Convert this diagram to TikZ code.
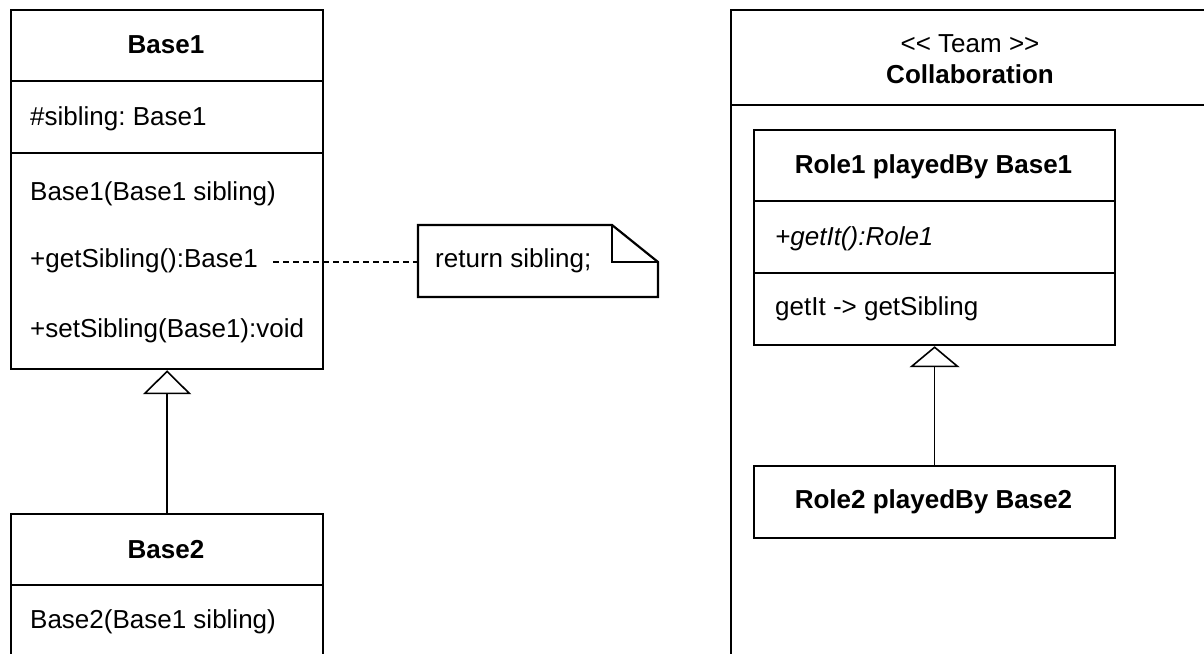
\documentclass[tikz,border=0pt]{standalone}
\usepackage{fontspec}
\setmainfont{Liberation Sans}[Ligatures=TeXOff]
\usetikzlibrary{arrows.meta}
\frenchspacing
\begin{document}
\begin{tikzpicture}[x=1pt,y=-1pt,
  every node/.style={font=\fontsize{26pt}{31pt}\selectfont, inner sep=0pt},
  box/.style={draw, line width=2.2pt, anchor=north west, inner sep=0pt},
  frame/.style={line width=2.2pt},
  lbl/.style={anchor=base west},
  ttl/.style={anchor=base, font=\fontsize{26pt}{31pt}\selectfont\bfseries},
  gen/.style={line width=1.6pt, -{Triangle[open, length=24pt, width=48pt, line width=1.6pt]}},
  notelink/.style={line width=1.6pt, dash pattern=on 6pt off 4pt}
]
\useasboundingbox (0,0) rectangle (1204,653);
\clip (0,0) rectangle (1204,653);

% Base1
\node[box, minimum width=312pt, minimum height=359pt] (base1) at (10,9) {};
\draw[frame] (10,81) -- (322,81);
\draw[frame] (10,153) -- (322,153);
\node[ttl] (base1t) at (166,53) {Base1};
\node[lbl] (base1a) at (30,125) {\#sibling: Base1};
\node[lbl] (base1m1) at (30,200) {Base1(Base1 sibling)};
\node[lbl] (base1m2) at (30,267) {+getSibling():Base1};
\node[lbl] (base1m3) at (30,337) {+setSibling(Base1):void};

% Base2
\node[box, minimum width=312pt, minimum height=200pt] (base2) at (10,513) {};
\draw[frame] (10,585) -- (322,585);
\node[ttl] (base2t) at (166,558) {Base2};
\node[lbl] (base2m1) at (30,628) {Base2(Base1 sibling)};

\draw[gen] (base2.north) -- (base1.south);

% Note
\node[minimum width=240pt, minimum height=72pt, anchor=north west] (note) at (418,225) {};
\draw[frame] (418,225) -- (612,225) -- (658,262) -- (658,297) -- (418,297) -- cycle;
\draw[line width=1.8pt] (612,225) -- (612,262) -- (658,262);
\node[lbl] (notetext) at (435,267) {return sibling;};
\coordinate (dashstart) at (273,262);
\draw[notelink] (dashstart) -- (note.west |- dashstart);

% Collaboration team
\node[box, minimum width=480pt, minimum height=720pt] (team) at (730,9) {};
\draw[frame] (730,105) -- (1210,105);
\node[anchor=base] (teamst) at (970,52) {<< Team >>};
\node[ttl] (teamt) at (970,83) {Collaboration};

% Role1
\node[box, minimum width=361pt, minimum height=215pt] (role1) at (753,129) {};
\draw[frame] (753,201) -- (1114,201);
\draw[frame] (753,273) -- (1114,273);
\node[ttl] (role1t) at (933.5,173) {Role1 playedBy Base1};
\node[lbl, font=\fontsize{26pt}{31pt}\selectfont\itshape] (role1a) at (775,245) {+getIt():Role1};
\node[lbl] (role1m) at (775,315) {getIt -> getSibling};

% Role2
\node[box, minimum width=361pt, minimum height=72pt] (role2) at (753,465) {};
\node[ttl] (role2t) at (933.5,508) {Role2 playedBy Base2};

\draw[line width=1.6pt, -{Triangle[open, length=21pt, width=50pt, line width=1.6pt]}] (role2.north) -- (role1.south);
\end{tikzpicture}
\end{document}
